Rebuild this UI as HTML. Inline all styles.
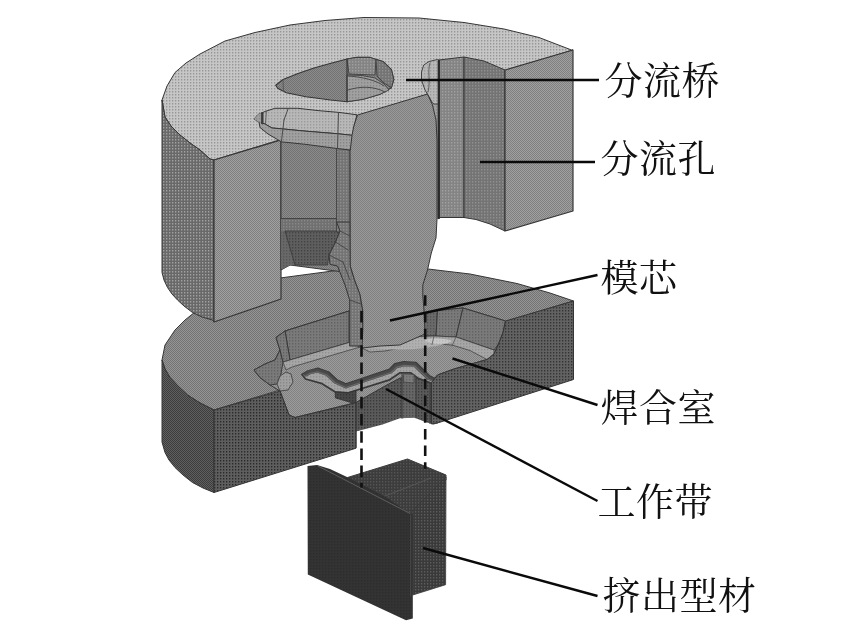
<!DOCTYPE html>
<html lang="zh-CN">
<head>
<meta charset="utf-8">
<title>分流组合模结构示意图</title>
<style>
html,body{margin:0;padding:0;background:#fff;}
body{width:856px;height:640px;overflow:hidden;}
svg{display:block;position:absolute;left:0;top:0;}
#labels{will-change:transform;}
.lbl text{font-family:"Liberation Serif","Noto Serif CJK SC",serif;font-size:38px;font-weight:400;fill:#111;letter-spacing:0.5px;}
</style>
</head>
<body>
<svg width="856" height="640" viewBox="0 0 856 640">
<defs>
<pattern id="t-upTop" width="3" height="3" patternUnits="userSpaceOnUse"><rect width="3" height="3" fill="#c6c6c6"/><rect x="1" y="1" width="1.3" height="1.5" fill="#969696"/></pattern>
<pattern id="t-upSide" width="3" height="3" patternUnits="userSpaceOnUse"><rect width="3" height="3" fill="#696969"/><rect x="1" y="1" width="1.3" height="1.5" fill="#a2a2a2"/></pattern>
<pattern id="t-upCut" width="2" height="2" patternUnits="userSpaceOnUse"><rect width="2" height="2" fill="#a0a0a0"/><rect x="0" y="0" width="1" height="1" fill="#808080"/><rect x="1" y="1" width="1" height="1" fill="#808080"/></pattern>
<pattern id="t-mand" width="2" height="2" patternUnits="userSpaceOnUse"><rect width="2" height="2" fill="#9a9a9a"/><rect x="0" y="0" width="1" height="1" fill="#808080"/><rect x="1" y="1" width="1" height="1" fill="#808080"/></pattern>
<pattern id="t-holeIn" width="2" height="2" patternUnits="userSpaceOnUse"><rect width="2" height="2" fill="#8c8c8c"/><rect x="0" y="0" width="1" height="1" fill="#727272"/><rect x="1" y="1" width="1" height="1" fill="#727272"/></pattern>
<pattern id="t-holeDk" width="3" height="3" patternUnits="userSpaceOnUse"><rect width="3" height="3" fill="#5e5e5e"/><rect x="1" y="1" width="1.3" height="1.5" fill="#444444"/></pattern>
<pattern id="t-rim" width="3" height="3" patternUnits="userSpaceOnUse"><rect width="3" height="3" fill="#b8b8b8"/><rect x="1" y="1" width="1.3" height="1.5" fill="#9a9a9a"/></pattern>
<pattern id="t-rim2" width="3" height="3" patternUnits="userSpaceOnUse"><rect width="3" height="3" fill="#a0a0a0"/><rect x="1" y="1" width="1.3" height="1.5" fill="#868686"/></pattern>
<pattern id="t-wall1" width="3" height="3" patternUnits="userSpaceOnUse"><rect width="3" height="3" fill="#848484"/><rect x="1" y="1" width="1.3" height="1.5" fill="#a0a0a0"/></pattern>
<pattern id="t-wall2" width="3" height="3" patternUnits="userSpaceOnUse"><rect width="3" height="3" fill="#747474"/><rect x="1" y="1" width="1.3" height="1.5" fill="#909090"/></pattern>
<pattern id="t-loTop" width="2" height="2" patternUnits="userSpaceOnUse"><rect width="2" height="2" fill="#949494"/><rect x="0" y="0" width="1" height="1" fill="#747474"/><rect x="1" y="1" width="1" height="1" fill="#747474"/></pattern>
<pattern id="t-loSide" width="2" height="2" patternUnits="userSpaceOnUse"><rect width="2" height="2" fill="#606060"/><rect x="0" y="0" width="1" height="1" fill="#3c3c3c"/><rect x="1" y="1" width="1" height="1" fill="#3c3c3c"/></pattern>
<pattern id="t-loCut" width="3" height="3" patternUnits="userSpaceOnUse"><rect width="3" height="3" fill="#5e5e5e"/><rect x="1" y="1" width="1.3" height="1.5" fill="#2a2a2a"/></pattern>
<pattern id="t-loCutR" width="3" height="3" patternUnits="userSpaceOnUse"><rect width="3" height="3" fill="#626262"/><rect x="1" y="1" width="1.3" height="1.5" fill="#343434"/></pattern>
<pattern id="t-exit" width="3" height="3" patternUnits="userSpaceOnUse"><rect width="3" height="3" fill="#5a5a5a"/><rect x="1" y="1" width="1.3" height="1.5" fill="#3a3a3a"/></pattern>
<pattern id="t-chFloor" width="2" height="2" patternUnits="userSpaceOnUse"><rect width="2" height="2" fill="#9c9c9c"/><rect x="0" y="0" width="1" height="1" fill="#828282"/><rect x="1" y="1" width="1" height="1" fill="#828282"/></pattern>
<pattern id="t-chWall" width="3" height="3" patternUnits="userSpaceOnUse"><rect width="3" height="3" fill="#7a7a7a"/><rect x="1" y="1" width="1.3" height="1.5" fill="#626262"/></pattern>
<pattern id="t-chWallD" width="3" height="3" patternUnits="userSpaceOnUse"><rect width="3" height="3" fill="#6a6a6a"/><rect x="1" y="1" width="1.3" height="1.5" fill="#525252"/></pattern>
<pattern id="t-fillet" width="3" height="3" patternUnits="userSpaceOnUse"><rect width="3" height="3" fill="#a6a6a6"/><rect x="1" y="1" width="1.3" height="1.5" fill="#909090"/></pattern>
<pattern id="t-prFront" width="3" height="3" patternUnits="userSpaceOnUse"><rect width="3" height="3" fill="#333333"/><rect x="1" y="1" width="1.3" height="1.5" fill="#2c2c2c"/></pattern>
<pattern id="t-hi" width="3" height="3" patternUnits="userSpaceOnUse"><rect width="3" height="3" fill="#b0b0b0"/><rect x="1" y="1" width="1.3" height="1.5" fill="#9e9e9e"/></pattern>
<pattern id="t-bandDk" width="3" height="3" patternUnits="userSpaceOnUse"><rect width="3" height="3" fill="#707070"/><rect x="1" y="1" width="1.3" height="1.5" fill="#888888"/></pattern>
<pattern id="t-bandDk2" width="3" height="3" patternUnits="userSpaceOnUse"><rect width="3" height="3" fill="#686868"/><rect x="1" y="1" width="1.3" height="1.5" fill="#565656"/></pattern>
<pattern id="t-hi2" width="3" height="3" patternUnits="userSpaceOnUse"><rect width="3" height="3" fill="#c8c8c8"/><rect x="1" y="1" width="1.3" height="1.5" fill="#b8b8b8"/></pattern>
<pattern id="t-slotRim" width="3" height="3" patternUnits="userSpaceOnUse"><rect width="3" height="3" fill="#a4a4a4"/><rect x="1" y="1" width="1.3" height="1.5" fill="#8e8e8e"/></pattern>
<pattern id="t-slotRim2" width="3" height="3" patternUnits="userSpaceOnUse"><rect width="3" height="3" fill="#7c7c7c"/><rect x="1" y="1" width="1.3" height="1.5" fill="#686868"/></pattern>
<pattern id="t-exitL" width="3" height="3" patternUnits="userSpaceOnUse"><rect width="3" height="3" fill="#666666"/><rect x="1" y="1" width="1.3" height="1.5" fill="#4a4a4a"/></pattern>
<pattern id="t-box" width="3" height="3" patternUnits="userSpaceOnUse"><rect width="3" height="3" fill="#484848"/><rect x="1" y="1" width="1.3" height="1.5" fill="#343434"/></pattern>
<pattern id="t-prTop" width="3" height="3" patternUnits="userSpaceOnUse"><rect width="3" height="3" fill="#3c3c3c"/><rect x="1" y="1" width="1.3" height="1.5" fill="#555555"/></pattern>
<pattern id="t-prSide" width="3" height="3" patternUnits="userSpaceOnUse"><rect width="3" height="3" fill="#3a3a3a"/><rect x="1" y="1" width="1.3" height="1.5" fill="#5c5c5c"/></pattern>
</defs>
<rect width="856" height="640" fill="#ffffff"/>
<g id="die">
<polygon points="162,360 165,345 175,330 185,320 200,308 230,292 280,278 340,270 428,269 470,274 517,283.5 550,293 573.5,301 214,410 200,403 187.5,395 178,386 170,377.5 165,369" fill="url(#t-loTop)" stroke="#363636" stroke-width="1.0" stroke-linejoin="round" />
<polygon points="162,360 165,369 170,377.5 178,386 187.5,395 200,403 214,410 214,492.5 203,488 192.5,482.5 183,475 175,467.5 169,460 165,452.5 162,442" fill="url(#t-loSide)" stroke="#363636" stroke-width="1.0" stroke-linejoin="round" />
<polygon points="335,390 347.6,393 389.6,379.8 400,372.8 410.6,372.8 417.7,378 431.7,383.3 438,382 438,423.5 433.4,424.5 424.7,421.8 414,417.5 400,418.3 382.6,424.5 356,431.5 355,402" fill="url(#t-exit)" />
<polygon points="254,370 265,364 275,360 280,350 276,337.5 285,331 349,311 423.5,313 437.5,310.5 463,308 505.5,321 503,332.5 498.5,344 494,354 487,359.5 454,369 437.5,375 431.5,382.5 415,378 400,378 385,386 356,402.5 295,417.5 289,415 280,391 270,385 260,377.5" fill="url(#t-chFloor)" stroke="#363636" stroke-width="1.0" stroke-linejoin="round" />
<polygon points="254,370 265,364 275,360 280,350 283,362 281,374 277,384 270,385 260,377.5" fill="url(#t-chWall)" stroke="#363636" stroke-width="0.9" stroke-linejoin="round" />
<polygon points="277,384 280,376 286,372 291,374 293,382 288,390 280,391" fill="url(#t-rim2)" stroke="#4a4a4a" stroke-width="1.0" stroke-linejoin="round" />
<polygon points="285,331 349,311 349,342.5 290,360" fill="url(#t-chWall)" stroke="#363636" stroke-width="1.0" stroke-linejoin="round" />
<polygon points="276,337.5 285,331 290,360 283,362 280,350" fill="url(#t-chWall)" stroke="#363636" stroke-width="0.9" stroke-linejoin="round" />
<polygon points="290,360 349,342.5 360,347 292,367 286,370 283,362" fill="url(#t-fillet)" stroke="#363636" stroke-width="0.7" stroke-linejoin="round" />
<polygon points="423.5,313 437.5,310.5 436,336 425,336" fill="url(#t-chWallD)" stroke="#363636" stroke-width="0.9" stroke-linejoin="round" />
<polygon points="437.5,310.5 463,308 456,337 436,336" fill="url(#t-chWall)" stroke="#363636" stroke-width="0.9" stroke-linejoin="round" />
<polygon points="463,308 505.5,321 503,332.5 498.5,344 494,350 456,337" fill="url(#t-chWall)" stroke="#363636" stroke-width="0.9" stroke-linejoin="round" />
<polygon points="362,348 380,341 405,337 434,336 456,337 494,350 494,354 487,359.5 470,350.5 452,345 432,343.5 410,346 385,351 370,352" fill="url(#t-fillet)" stroke="#363636" stroke-width="0.7" stroke-linejoin="round" />
<path d="M372,347 C392,339 428,335.5 453,340.5 C442,347.5 400,353 372,347 Z" fill="url(#t-hi)" />
<path d="M424,340 C432,337.5 446,338 452,341 C445,345 432,345.5 424,340 Z" fill="url(#t-hi2)" />
<line x1="434" y1="336" x2="432" y2="344.5" stroke="#555" stroke-width="0.8" stroke-linecap="round" />
<line x1="456" y1="337" x2="452" y2="346" stroke="#555" stroke-width="0.8" stroke-linecap="round" />
<polygon points="302,374.5 308,371 317.8,368.4 328.3,372 337,380 345.8,384 389.6,369.3 394.9,364 403.6,362 416,362.6 423,369.3 430,376.3 437.8,379.8 437.8,382.4 431.7,383.3 417.7,378 410.6,372.8 400,372.8 389.6,379.8 347.6,393 335.3,392 321.3,383.3 305.5,379" fill="url(#t-slotRim)" stroke="#3a3a3a" stroke-width="1.8" stroke-linejoin="round" />
<path d="M306,375 L310,372.8 L317.5,371.2 L326.8,374.4 L335.5,382.4 L345.8,387 L391,372 L396.4,366.8 L404,364.8 L414.8,365.4 L421,371.6 L428.6,378.6 L435.5,381.4" fill="none" stroke="#4a4a4a" stroke-width="4.2" stroke-linejoin="round" stroke-linecap="round" transform="translate(0,-0.7)"/>
<path d="M306,375 L310,372.8 L317.5,371.2 L326.8,374.4 L335.5,382.4 L345.8,387 L391,372 L396.4,366.8 L404,364.8 L414.8,365.4 L421,371.6 L428.6,378.6 L435.5,381.4" fill="none" stroke="#6a6a6a" stroke-width="1.1" stroke-linejoin="round" stroke-linecap="round" transform="translate(0,0.6)"/>
<polygon points="214,410 280,391 289,415 295,417.5 347.5,405 356,402.5 356,431 356,448.2 214,492.5" fill="url(#t-loCut)" stroke="#363636" stroke-width="1.0" stroke-linejoin="round" />
<polygon points="573.5,301 573.5,379.5 439,422.5 431.5,424 431.5,382.5 437.5,375 454,369 487,359.5 494,354 498.5,344 503,332.5 505.5,321" fill="url(#t-loCutR)" stroke="#363636" stroke-width="1.0" stroke-linejoin="round" />
<polygon points="402,375 416,377.5 416,417.5 402,418.2" fill="url(#t-exitL)" />
<polygon points="403.6,374 414,374.5 414,383 403.6,382" fill="url(#t-slotRim2)" stroke="#444" stroke-width="0.7" stroke-linejoin="round" />
<line x1="402" y1="373" x2="402" y2="418.2" stroke="#3a3a3a" stroke-width="1.0" stroke-linecap="round" />
<line x1="416" y1="377.5" x2="416" y2="417.8" stroke="#3a3a3a" stroke-width="1.0" stroke-linecap="round" />
<line x1="430" y1="383" x2="430" y2="423.5" stroke="#3a3a3a" stroke-width="1.0" stroke-linecap="round" />
<polygon points="335.3,392 347.6,393 356,390.5 356,402.6 352.8,403 335.3,397.8" fill="url(#t-box)" stroke="#333" stroke-width="0.9" stroke-linejoin="round" />
<line x1="356" y1="402" x2="356" y2="447.5" stroke="#3a3a3a" stroke-width="1.0" stroke-linecap="round" />
<polygon points="162,100 167,86 175,72.5 186,63 200,54 225,41 255,32.5 290,25 325,20.5 364,17.5 419,18 464,22.5 504,29 539,37.5 571.5,50 573,50 214,160 210,159 200,150 190,143 180,135 171,126 165,117" fill="url(#t-upTop)" stroke="#363636" stroke-width="1.0" stroke-linejoin="round" />
<polygon points="162,100 165,117 171,126 180,135 190,143 200,150 210,159 214,160 214,322 212.5,320 202,317 192.5,312.5 184,306 177.5,300 172,294 167.5,287.5 164,280 162,272.5" fill="url(#t-upSide)" stroke="#363636" stroke-width="1.0" stroke-linejoin="round" />
<polygon points="214,160 281,140 281,299 214,322" fill="url(#t-upCut)" stroke="#363636" stroke-width="1.2" stroke-linejoin="round" />
<polygon points="439,60 464,57 464,217.5 439,217.5" fill="url(#t-wall1)" stroke="#363636" stroke-width="1.0" stroke-linejoin="round" />
<polygon points="464,57 484,61 505,70 505,231 490,224 476,219.5 464,217.5" fill="url(#t-wall2)" stroke="#363636" stroke-width="1.0" stroke-linejoin="round" />
<polygon points="505,70 573,50 573,211 505,231" fill="url(#t-upCut)" stroke="#363636" stroke-width="1.2" stroke-linejoin="round" />
<polygon points="281,139 350,125 350,232 336,232 339.5,271.5 290,265 281,270" fill="url(#t-holeIn)" stroke="#363636" stroke-width="1.0" stroke-linejoin="round" />
<polygon points="281,218.5 336.6,218.5 336.6,231 281,231" fill="url(#t-bandDk)" />
<line x1="281" y1="218.5" x2="336.6" y2="218.5" stroke="#444" stroke-width="1.0" stroke-linecap="round" />
<polygon points="281,231 285,231 295,265 290,265.5 281,269.5" fill="url(#t-bandDk2)" />
<polygon points="285,231 340,231 335.6,242 329,255 327.5,265 295,265" fill="url(#t-holeDk)" stroke="#363636" stroke-width="0.8" stroke-linejoin="round" />
<polygon points="426,92 440,92 440,219 430,219" fill="url(#t-rim2)" />
<polygon points="336.6,148 350,150 350,232 336.6,232" fill="url(#t-wall2)" stroke="#363636" stroke-width="0.8" stroke-linejoin="round" />
<polygon points="336.6,222 350,222 350.3,266 354.4,279.4 360,294.4 362.8,311.3 362.8,346 349.7,346 349.7,300 345,285 337.5,266 330,264.4 329,255 335.6,242 340,231" fill="url(#t-wall2)" stroke="#363636" stroke-width="1.0" stroke-linejoin="round" />
<line x1="340" y1="231" x2="350" y2="236" stroke="#444" stroke-width="0.9" stroke-linecap="round" />
<line x1="335.6" y1="242" x2="348" y2="250" stroke="#444" stroke-width="0.9" stroke-linecap="round" />
<line x1="329" y1="255" x2="343" y2="262" stroke="#444" stroke-width="0.9" stroke-linecap="round" />
<line x1="343" y1="262" x2="350" y2="280" stroke="#444" stroke-width="0.9" stroke-linecap="round" />
<line x1="349.7" y1="300" x2="361" y2="304" stroke="#444" stroke-width="0.9" stroke-linecap="round" />
<polygon points="357.5,115 427.5,94 432.5,105 436,120 437,140 437,219 436,238 431.3,253 427.5,270 422.8,285 422.8,296 424,310 425,334 400,345 380,346 362,348 362.8,330 362.8,311 360,294.4 354.4,279.4 350.3,266 350,136" fill="url(#t-mand)" stroke="#363636" stroke-width="1.0" stroke-linejoin="round" />
<polygon points="275.7,85.3 283,79.5 298,73.5 314,68 330,63.5 347,59 357,57.4 370,57.4 383,61.5 391.4,69.7 393.8,79.5 391.4,87.7 380,94.3 363.5,99.2 347,101.7 330.6,100 306,96.8 286.3,92.7 278,88.6" fill="url(#t-holeIn)" stroke="#363636" stroke-width="1.1" stroke-linejoin="round" />
<polygon points="347,59 357,57.4 370,57.4 376,59.5 375,75 349,74" fill="url(#t-wall1)" stroke="#363636" stroke-width="0.8" stroke-linejoin="round" />
<polygon points="376,59.5 383,61.5 391.4,69.7 393.8,79.5 391.4,87.7 384,83 377,76" fill="url(#t-wall2)" stroke="#363636" stroke-width="0.8" stroke-linejoin="round" />
<polygon points="347,75 362,75.5 375,78 384,84 389,90 380,94.3 363.5,99.2 347,101.7" fill="url(#t-rim2)" stroke="#363636" stroke-width="0.8" stroke-linejoin="round" />
<path d="M348,90 C360,86 374,86 385,92" fill="none" stroke="#4a4a4a" stroke-width="1.0" stroke-linejoin="round" stroke-linecap="round" />
<path d="M348,76 C362,77 376,80 384,86" fill="none" stroke="#4a4a4a" stroke-width="1.0" stroke-linejoin="round" stroke-linecap="round" />
<line x1="347" y1="59" x2="347" y2="101.7" stroke="#363636" stroke-width="1.2" stroke-linecap="round" />
<line x1="283" y1="79.5" x2="283.5" y2="91.5" stroke="#555" stroke-width="0.9" stroke-linecap="round" />
<polygon points="254,119 258,114.5 265,111.5 274.8,108.3 297.8,108.3 319,110.7 338.9,112.4 357,114.8 353.6,127 352,135.3 337.2,133.7 306,131.2 281.4,128.8 272,128 265,124 259,122" fill="url(#t-rim)" stroke="#363636" stroke-width="1.0" stroke-linejoin="round" />
<polygon points="259,122 265,124 272,128 281.4,128.8 306,131.2 337.2,133.7 352,135.3 350.3,150 337,148.5 306,144.4 288,142.5 281.4,141.9 277.3,139.4 268,134 260,127.5" fill="url(#t-rim2)" stroke="#363636" stroke-width="1.0" stroke-linejoin="round" />
<line x1="288" y1="109" x2="284" y2="120" stroke="#4a4a4a" stroke-width="1.0" stroke-linecap="round" />
<line x1="284" y1="120" x2="281.4" y2="141.9" stroke="#4a4a4a" stroke-width="1.0" stroke-linecap="round" />
<line x1="338.5" y1="112.4" x2="337.5" y2="148.5" stroke="#4a4a4a" stroke-width="1.0" stroke-linecap="round" />
<line x1="262.3" y1="113.2" x2="262.3" y2="123" stroke="#3a3a3a" stroke-width="2.4" stroke-linecap="round" />
<line x1="266.3" y1="111.5" x2="265.5" y2="124.5" stroke="#555" stroke-width="0.9" stroke-linecap="round" />
<polygon points="254,119 258,114.5 261,113 261,123.2 259,122" fill="url(#t-rim2)" />
<polygon points="427.5,94 425,90 421.5,80 421.5,72 423.7,65 429,61.5 437.5,59.5 439,60 439,104 434,104 432.5,103" fill="url(#t-rim)" stroke="#363636" stroke-width="0.9" stroke-linejoin="round" />
<path d="M430,63 C427,72 431,80 428,92" fill="none" stroke="#555" stroke-width="0.9" stroke-linejoin="round" stroke-linecap="round" />
<line x1="438.8" y1="61" x2="438.8" y2="218" stroke="#2a2a2a" stroke-width="2.3" stroke-linecap="round" />
<polygon points="347.5,477.5 407.5,459 446,475 446,480 410,516 385,496" fill="url(#t-prTop)" stroke="#3c3c3c" stroke-width="1.0" stroke-linejoin="round" />
<polygon points="410,514 446,477 445.6,584.7 412.8,595" fill="url(#t-prSide)" stroke="#3a3a3a" stroke-width="0.8" stroke-linejoin="round" />
<polygon points="307.5,466 317,465 330,469 347,477 385,496 410,514 412.8,514 412.8,618.5 406,620.3 307.8,574.4" fill="url(#t-prFront)" />
<line x1="318" y1="466" x2="410" y2="513.5" stroke="#5e5e5e" stroke-width="1.0" stroke-linecap="round" />
<line x1="385" y1="496" x2="431" y2="478" stroke="#585858" stroke-width="0.9" stroke-linecap="round" />
<line x1="410.6" y1="515" x2="410.6" y2="596" stroke="#4c4c4c" stroke-width="0.8" stroke-linecap="round" />
<line x1="361.5" y1="310.8" x2="361.5" y2="487.5" stroke="#111" stroke-width="2.6" stroke-dasharray="11.6 5.6"/>
<line x1="425.2" y1="295.3" x2="425.2" y2="468.8" stroke="#111" stroke-width="2.6" stroke-dasharray="10.5 6.2"/>
<line x1="406" y1="80" x2="599" y2="80" stroke="#0a0a0a" stroke-width="2.4"/>
<line x1="480" y1="162" x2="595" y2="162" stroke="#0a0a0a" stroke-width="2.4"/>
<line x1="390" y1="320.5" x2="597.5" y2="275" stroke="#0a0a0a" stroke-width="2.4"/>
<line x1="452.5" y1="358.5" x2="597.5" y2="405" stroke="#0a0a0a" stroke-width="2.4"/>
<line x1="386" y1="389" x2="597.5" y2="501" stroke="#0a0a0a" stroke-width="2.4"/>
<line x1="423" y1="548" x2="597.5" y2="596" stroke="#0a0a0a" stroke-width="2.4"/>
</g>
</svg>
<svg id="labels" class="lbl" width="856" height="640" viewBox="0 0 856 640">
<text x="604.5" y="93.5">分流桥</text>
<text x="600.5" y="172.2">分流孔</text>
<text x="600.5" y="290.5">模芯</text>
<text x="600.5" y="420.7">焊合室</text>
<text x="597.5" y="514.5">工作带</text>
<text x="602.5" y="609">挤出型材</text>
</svg>
</body>
</html>
